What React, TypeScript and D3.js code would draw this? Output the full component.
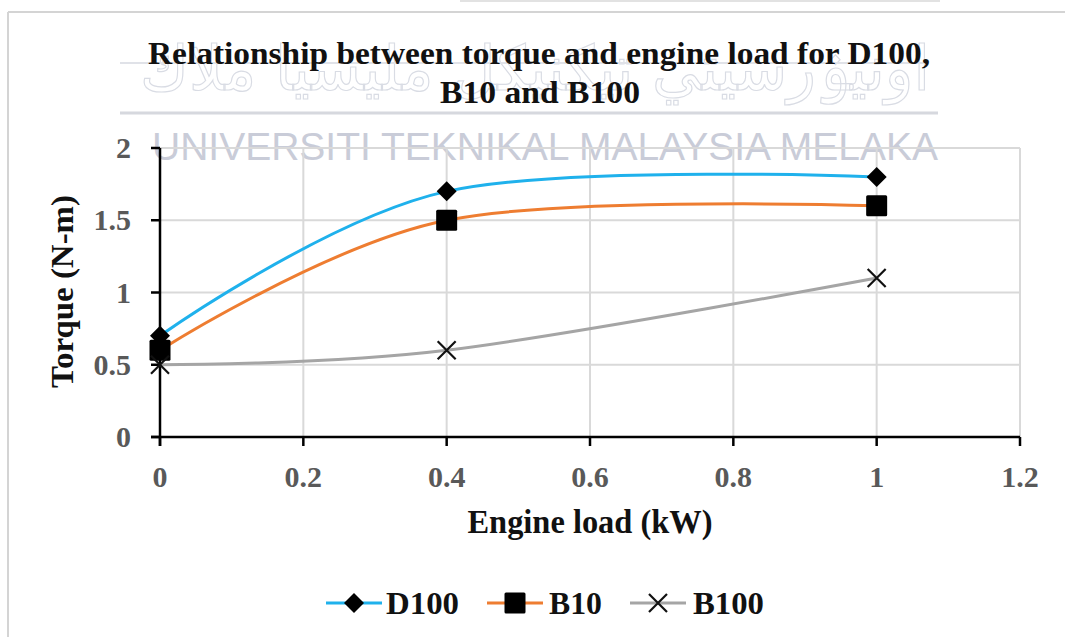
import React from "react";
import * as d3 from "d3";

const loads = [0, 0.4, 1];
const d100 = [0.7, 1.7, 1.8];
const b10 = [0.6, 1.5, 1.6];
const b100 = [0.5, 0.6, 1.1];
const seriesNames = ["D100", "B10", "B100"];
const xTicks = [0, 0.2, 0.4, 0.6, 0.8, 1, 1.2];
const yTicks = [0, 0.5, 1, 1.5, 2];
const titleLines = ["Relationship between torque and engine load for D100,", "B10 and B100"];
const xTitle = "Engine load (kW)";
const yTitle = "Torque (N-m)";
const watermark = "UNIVERSITI TEKNIKAL MALAYSIA MELAKA";
const watermarkJawi = "اونيۏرسيتي تيكنيكل مليسيا ملاك";

const W = 1065;
const H = 637;
const SERIF = "'Liberation Serif', 'Times New Roman', serif";

export default function App() {
  const x = d3.scaleLinear().domain([0, 1.2]).range([160, 1020]);
  const y = d3.scaleLinear().domain([0, 2]).range([437, 148]);
  const line = d3
    .line<[number, number]>()
    .x((d) => x(d[0]))
    .y((d) => y(d[1]))
    .curve(d3.curveCardinal.tension(0));

  const series = [
    { name: seriesNames[0], vals: d100, color: "#1fb1ec", marker: "diamond" },
    { name: seriesNames[1], vals: b10, color: "#ee7d31", marker: "square" },
    { name: seriesNames[2], vals: b100, color: "#a5a5a5", marker: "x" },
  ];

  const drawMarker = (kind: string, cx: number, cy: number, key: string, s = 1) => {
    if (kind === "diamond") {
      const r = 10 * s;
      return (
        <path
          key={key}
          d={`M${cx},${cy - r}L${cx + r},${cy}L${cx},${cy + r}L${cx - r},${cy}Z`}
          fill="#000"
        />
      );
    }
    if (kind === "square") {
      const r = 10.5 * s;
      return <rect key={key} x={cx - r} y={cy - r} width={2 * r} height={2 * r} rx={1.5} fill="#000" />;
    }
    const r = 9 * s;
    return (
      <path
        key={key}
        d={`M${cx - r},${cy - r}L${cx + r},${cy + r}M${cx - r},${cy + r}L${cx + r},${cy - r}`}
        stroke="#111"
        strokeWidth={2.2}
        fill="none"
      />
    );
  };

  const legendItems = [
    { lx: 326, tx: 386, tw: 73 },
    { lx: 487, tx: 549, tw: 53 },
    { lx: 630, tx: 693, tw: 71 },
  ];

  return (
    <svg
      width={W}
      height={H}
      viewBox={`0 0 ${W} ${H}`}
      style={{ position: "absolute", left: 0, top: 0, background: "#fff" }}
    >
      <rect x={0} y={0} width={W} height={H} fill="#fff" />
      {/* outer frame */}
      <line x1={8} y1={12} x2={W} y2={12} stroke="#d4d4d4" strokeWidth={2} />
      <line x1={8} y1={12} x2={8} y2={H} stroke="#d4d4d4" strokeWidth={2} />
      <line x1={460} y1={1} x2={940} y2={1} stroke="#e2e2e2" strokeWidth={2} />

      {/* watermark */}
      <text
        x={535}
        y={90}
        textAnchor="middle"
        fontFamily="'DejaVu Sans', sans-serif"
        fontSize={62}
        fill="none"
        stroke="#d9dce4"
        strokeWidth={1.2}
        textLength={790}
        lengthAdjust="spacingAndGlyphs"
      >
        {watermarkJawi}
      </text>
      <line x1={120} y1={63} x2={925} y2={63} stroke="#e0e2e8" strokeWidth={2} />
      <line x1={120} y1={113} x2={938} y2={113} stroke="#d6d8de" strokeWidth={3} />
      <text
        x={152}
        y={160}
        fontFamily="'Liberation Sans', Arial, sans-serif"
        fontSize={38}
        fill="#c9ccd8"
        textLength={786}
        lengthAdjust="spacingAndGlyphs"
      >
        {watermark}
      </text>

      {/* title */}
      <text
        x={539}
        y={64}
        textAnchor="middle"
        fontFamily={SERIF}
        fontWeight="bold"
        fontSize={32}
        fill="#111"
        textLength={782}
        lengthAdjust="spacingAndGlyphs"
      >
        {titleLines[0]}
      </text>
      <text
        x={540}
        y={103}
        textAnchor="middle"
        fontFamily={SERIF}
        fontWeight="bold"
        fontSize={32}
        fill="#111"
        textLength={200}
        lengthAdjust="spacingAndGlyphs"
      >
        {titleLines[1]}
      </text>

      {/* gridlines */}
      {xTicks.slice(1).map((t) => (
        <line key={`gx${t}`} x1={x(t)} x2={x(t)} y1={y(2)} y2={y(0)} stroke="#d9d9d9" strokeWidth={2} />
      ))}
      {yTicks.slice(1).map((t) => (
        <line key={`gy${t}`} x1={x(0)} x2={x(1.2)} y1={y(t)} y2={y(t)} stroke="#d9d9d9" strokeWidth={2} />
      ))}

      {/* axes */}
      <line x1={x(0)} x2={x(0)} y1={y(2)} y2={y(0) + 9} stroke="#000" strokeWidth={2.5} />
      <line x1={x(0) - 9} x2={x(1.2)} y1={y(0)} y2={y(0)} stroke="#000" strokeWidth={2.5} />
      {yTicks.map((t) => (
        <line key={`ty${t}`} x1={x(0) - 9} x2={x(0)} y1={y(t)} y2={y(t)} stroke="#000" strokeWidth={2.5} />
      ))}
      {xTicks.map((t) => (
        <line key={`tx${t}`} x1={x(t)} x2={x(t)} y1={y(0)} y2={y(0) + 9} stroke="#000" strokeWidth={2.5} />
      ))}

      {/* tick labels */}
      {yTicks.map((t) => (
        <text
          key={`ly${t}`}
          x={131}
          y={y(t) + 10}
          textAnchor="end"
          fontFamily={SERIF}
          fontWeight="bold"
          fontSize={30}
          fill="#595959"
        >
          {String(t)}
        </text>
      ))}
      {xTicks.map((t) => (
        <text
          key={`lx${t}`}
          x={x(t)}
          y={487}
          textAnchor="middle"
          fontFamily={SERIF}
          fontWeight="bold"
          fontSize={30}
          fill="#595959"
        >
          {String(t)}
        </text>
      ))}

      {/* axis titles */}
      <text
        x={590}
        y={533}
        textAnchor="middle"
        fontFamily={SERIF}
        fontWeight="bold"
        fontSize={33}
        fill="#111"
        textLength={245}
        lengthAdjust="spacingAndGlyphs"
      >
        {xTitle}
      </text>
      <text
        transform={`translate(73,291.5) rotate(-90)`}
        textAnchor="middle"
        fontFamily={SERIF}
        fontWeight="bold"
        fontSize={32}
        fill="#111"
        textLength={193}
        lengthAdjust="spacingAndGlyphs"
      >
        {yTitle}
      </text>

      {/* series */}
      {series.map((s) => (
        <g key={s.name}>
          <path
            d={line(loads.map((l, i) => [l, s.vals[i]] as [number, number])) || ""}
            fill="none"
            stroke={s.color}
            strokeWidth={3}
          />
          {loads.map((l, i) => drawMarker(s.marker, x(l), y(s.vals[i]), `${s.name}m${i}`))}
        </g>
      ))}

      {/* legend */}
      {series.map((s, i) => {
        const li = legendItems[i];
        return (
          <g key={`leg${s.name}`}>
            <line x1={li.lx} x2={li.lx + 56} y1={603} y2={603} stroke={s.color} strokeWidth={3} />
            {drawMarker(s.marker, li.lx + 28, 603, `lm${i}`)}
            <text
              x={li.tx}
              y={614}
              fontFamily={SERIF}
              fontWeight="bold"
              fontSize={32}
              fill="#111"
              textLength={li.tw}
              lengthAdjust="spacingAndGlyphs"
            >
              {s.name}
            </text>
          </g>
        );
      })}
    </svg>
  );
}
